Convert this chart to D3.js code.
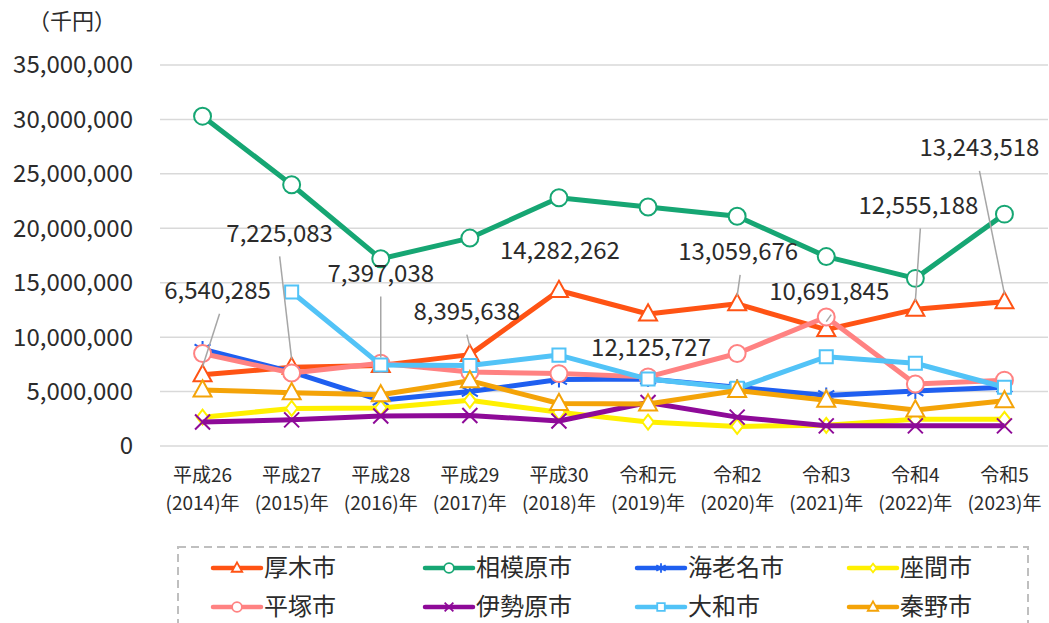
<!DOCTYPE html>
<html>
<head>
<meta charset="utf-8">
<script src="https://cdn.jsdelivr.net/npm/d3@7"></script>
<style>
  body { margin: 0; background: #fff; }
  svg text { font-family: "Noto Sans CJK JP", "Noto Sans", sans-serif; fill: #2b2b2b; }
</style>
</head>
<body>
<svg id="chart" width="1049" height="623"></svg>
<script>
// 年度ラベル (2行)
const yearsTop = ["平成26", "平成27", "平成28", "平成29", "平成30", "令和元", "令和2", "令和3", "令和4", "令和5"];
const yearsBottom = ["(2014)年", "(2015)年", "(2016)年", "(2017)年", "(2018)年", "(2019)年", "(2020)年", "(2021)年", "(2022)年", "(2023)年"];

const yTicks = [0, 5000000, 10000000, 15000000, 20000000, 25000000, 30000000, 35000000];

// 各市の値（千円）
const atsugi = [6540285, 7225083, 7397038, 8395638, 14282262, 12125727, 13059676, 10691845, 12555188, 13243518];
const sagamihara = [30300000, 24000000, 17200000, 19100000, 22800000, 21950000, 21100000, 17400000, 15400000, 21300000];
const ebina = [8900000, 6800000, 4200000, 5000000, 6100000, 6150000, 5400000, 4650000, 5050000, 5400000];
const zama = [2650000, 3450000, 3500000, 4200000, 3100000, 2200000, 1800000, 1900000, 2450000, 2450000];
const hiratsuka = [8500000, 6700000, 7600000, 6800000, 6650000, 6350000, 8500000, 11850000, 5700000, 6050000];
const isehara = [2200000, 2400000, 2750000, 2800000, 2300000, 4000000, 2650000, 1850000, 1850000, 1850000];
const yamato = [null, 14150000, 7450000, 7400000, 8350000, 6150000, 5300000, 8200000, 7600000, 5400000];
const hadano = [5150000, 4900000, 4700000, 6000000, 3900000, 3850000, 5100000, 4200000, 3300000, 4150000];

const seriesNames = ["厚木市", "相模原市", "海老名市", "座間市", "平塚市", "伊勢原市", "大和市", "秦野市"];
const seriesValues = [atsugi, sagamihara, ebina, zama, hiratsuka, isehara, yamato, hadano];
const seriesColors = ["#ff5314", "#16a673", "#1f5ff0", "#fff000", "#ff8282", "#8e0a98", "#52c3f7", "#f4a308"];
const seriesMarkers = ["triangle", "circle", "asterisk", "diamond", "circle", "x", "square", "triangle"];

// 厚木市のデータラベル配置 (点からのずれ, 引出線の有無)
const labelOffsets = [[15, -84, 1], [-12, -134, 1], [0, -92, 1], [-3, -43, 1], [1, -40, 0],
                      [3, 34, 0], [1, -52, 1], [3, -38, 1], [3, -104, 1], [-25, -154, 1]];

const svg = d3.select("#chart");
const margin = { top: 65, right: 0, bottom: 177, left: 158 };
const width = 1049, height = 623;

const x = d3.scalePoint()
  .domain(d3.range(yearsTop.length))
  .range([margin.left, width - margin.right])
  .padding(0.5);

const y = d3.scaleLinear()
  .domain([0, 35000000])
  .range([height - margin.bottom, margin.top]);

// grid
svg.append("g")
  .selectAll("line")
  .data(yTicks)
  .join("line")
  .attr("x1", margin.left + 2)
  .attr("x2", width - 1)
  .attr("y1", d => y(d))
  .attr("y2", d => y(d))
  .attr("stroke", "#d9d9d9")
  .attr("stroke-width", 1.5);

// y axis labels
svg.append("g")
  .selectAll("text")
  .data(yTicks)
  .join("text")
  .attr("x", 133)
  .attr("y", d => y(d))
  .attr("dy", "0.35em")
  .attr("text-anchor", "end")
  .attr("font-size", 24)
  .text(d => d3.format(",")(d));

svg.append("text")
  .attr("x", 72)
  .attr("y", 21)
  .attr("dy", "0.35em")
  .attr("text-anchor", "middle")
  .attr("font-size", 22)
  .text("（千円）");

// x axis labels
const xl = svg.append("g")
  .selectAll("g")
  .data(yearsTop)
  .join("g")
  .attr("transform", (d, i) => `translate(${x(i)},0)`);
xl.append("text")
  .attr("y", 482)
  .attr("text-anchor", "middle")
  .attr("font-size", 19)
  .text(d => d);
xl.append("text")
  .attr("y", 510)
  .attr("text-anchor", "middle")
  .attr("font-size", 19)
  .text((d, i) => yearsBottom[i]);

function markerPath(type, s) {
  if (type === "triangle") {
    const h = s * 0.9;
    return `M0,${-h * 0.6}L${s / 2},${h * 0.4}L${-s / 2},${h * 0.4}Z`;
  }
  if (type === "circle") return d3.symbol(d3.symbolCircle, s * s * 0.78)();
  if (type === "square") return `M${-s / 2.3},${-s / 2.3}h${s / 1.15}v${s / 1.15}h${-s / 1.15}Z`;
  if (type === "diamond") return `M0,${-s / 2}L${s / 2.6},0L0,${s / 2}L${-s / 2.6},0Z`;
  if (type === "x") return `M${-s / 2},${-s / 2}L${s / 2},${s / 2}M${-s / 2},${s / 2}L${s / 2},${-s / 2}`;
  if (type === "asterisk") {
    const a = s / 2;
    return `M0,${-a}L0,${a}M${-a},${-a * 0.6}L${a},${a * 0.6}M${-a},${a * 0.6}L${a},${-a * 0.6}`;
  }
}
const markerSize = { triangle: 18, circle: 17, asterisk: 16, diamond: 15, x: 15, square: 15 };
const openMarker = t => t !== "x" && t !== "asterisk";

const line = d3.line()
  .defined(d => d != null)
  .x((d, i) => x(i))
  .y(d => y(d));

seriesValues.forEach((vals, k) => {
  const g = svg.append("g");
  g.append("path")
    .datum(vals)
    .attr("fill", "none")
    .attr("stroke", seriesColors[k])
    .attr("stroke-width", 5)
    .attr("stroke-linejoin", "round")
    .attr("d", line);
  g.selectAll("path.mk")
    .data(vals.map((v, i) => ({ v, i })).filter(d => d.v != null))
    .join("path")
    .attr("class", "mk")
    .attr("transform", d => `translate(${x(d.i)},${y(d.v)})`)
    .attr("d", markerPath(seriesMarkers[k], markerSize[seriesMarkers[k]]))
    .attr("fill", openMarker(seriesMarkers[k]) ? "#fff" : "none")
    .attr("stroke", seriesColors[k])
    .attr("stroke-width", 2);
});

// 厚木市 data labels
const lbl = svg.append("g");
atsugi.forEach((v, i) => {
  const px = x(i), py = y(v);
  const [dx, dy, leader] = labelOffsets[i];
  const lx = px + dx, ly = py + dy;
  if (leader) {
    lbl.append("line")
      .attr("x1", lx + (dx > 0 ? 2 : 0))
      .attr("y1", ly + 23)
      .attr("x2", px)
      .attr("y2", py - 8)
      .attr("stroke", "#a6a6a6")
      .attr("stroke-width", 1.5);
  }
  lbl.append("text")
    .attr("x", lx)
    .attr("y", ly)
    .attr("dy", "0.35em")
    .attr("text-anchor", "middle")
    .attr("font-size", 24)
    .text(d3.format(",")(v));
});

// legend
svg.append("rect")
  .attr("x", 178)
  .attr("y", 547)
  .attr("width", 850)
  .attr("height", 100)
  .attr("fill", "none")
  .attr("stroke", "#bfbfbf")
  .attr("stroke-width", 2)
  .attr("stroke-dasharray", "8,5");

const legend = svg.append("g")
  .selectAll("g")
  .data(seriesNames)
  .join("g")
  .attr("transform", (d, i) => `translate(${213 + (i % 4) * 212},${i < 4 ? 568 : 607})`);
legend.append("line")
  .attr("x1", 0)
  .attr("x2", 48)
  .attr("stroke", (d, i) => seriesColors[i])
  .attr("stroke-width", 4.5)
  .attr("stroke-linecap", "round");
legend.append("path")
  .attr("transform", "translate(24,0)")
  .attr("d", (d, i) => markerPath(seriesMarkers[i], markerSize[seriesMarkers[i]] * 0.58))
  .attr("fill", (d, i) => openMarker(seriesMarkers[i]) ? "#fff" : "none")
  .attr("stroke", (d, i) => seriesColors[i])
  .attr("stroke-width", 1.8);
legend.append("text")
  .attr("x", 51)
  .attr("dy", "0.35em")
  .attr("font-size", 24)
  .text(d => d);
</script>
</body>
</html>
